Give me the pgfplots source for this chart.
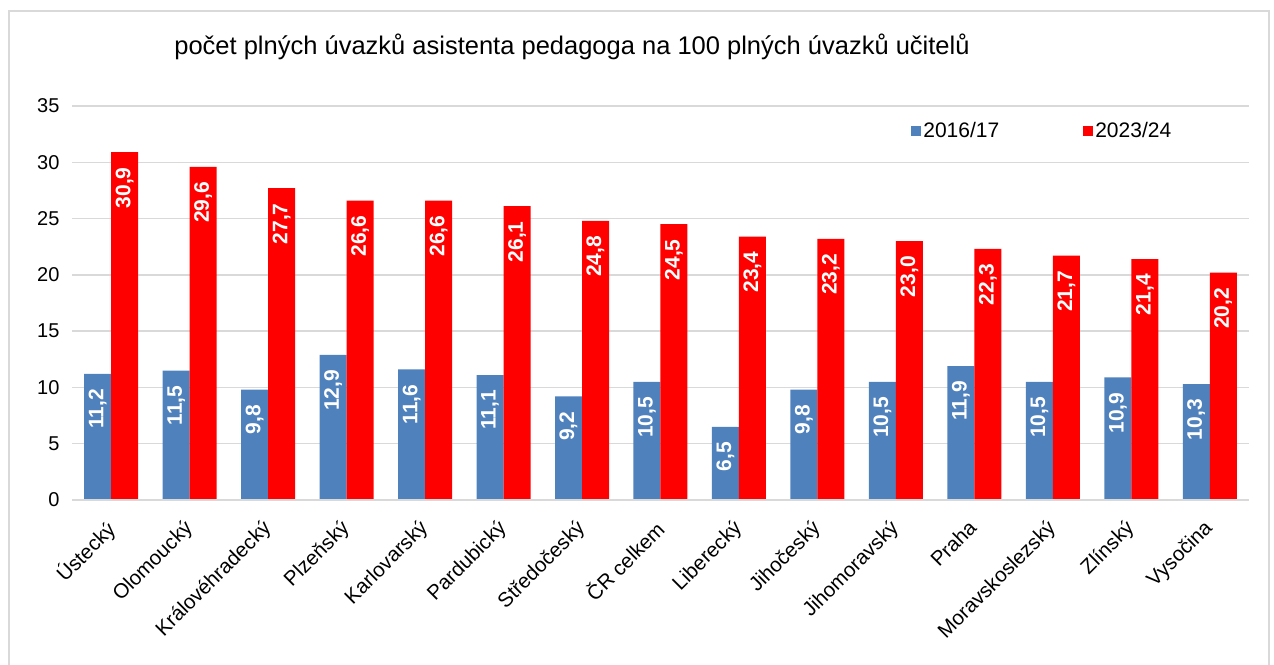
\documentclass[border=0pt]{standalone}
\usepackage{fontspec}
\setmainfont{Liberation Sans}
\usepackage{pgfplots}
\pgfplotsset{compat=1.18}
\definecolor{blueB}{HTML}{4F81BD}
\definecolor{redB}{HTML}{FF0000}
\definecolor{gridG}{HTML}{D9D9D9}
\begin{document}
\begin{tikzpicture}[x=1pt,y=1pt]
\useasboundingbox (0,0) rectangle (1274,664);
\draw[gridG, line width=1.5pt] (9,-20) rectangle (1269,653);
\node[font=\fontsize{25.5}{28}\selectfont] at (572,617) {počet plných úvazků asistenta pedagoga na 100 plných úvazků učitelů};
\begin{axis}[
  at={(72pt,164pt)}, anchor=south west,
  scale only axis, width=1177pt, height=394pt,
  ybar=0pt, bar width=27pt,
  xmin=-0.5, xmax=14.5, ymin=0, ymax=35,
  ytick={0,5,...,35},
  xtick={0,...,14},
  xticklabels={Ústecký,Olomoucký,Královéhradecký,Plzeňský,Karlovarský,Pardubický,Středočeský,ČR celkem,Liberecký,Jihočeský,Jihomoravský,Praha,Moravskoslezský,Zlínský,Vysočina},
  xticklabel style={rotate=45, anchor=north east, inner sep=2pt, yshift=-6pt, xshift=-16pt, font=\fontsize{20.5}{22}\selectfont},
  yticklabel style={font=\fontsize{20}{22}\selectfont, xshift=-9pt},
  /pgf/number format/assume math mode=true,
  major tick length=0pt,
  axis line style={draw=none},
  ymajorgrids, grid style={gridG, line width=1.5pt},
  nodes near coords={\pgfmathprintnumber[use comma,fixed,fixed zerofill,precision=1]{\pgfplotspointmeta}},
  every node near coord/.append style={rotate=90, anchor=east, inner xsep=15pt, text=white, font=\bfseries\fontsize{21}{23}\selectfont},
  legend style={at={(0.713,0.937)}, anchor=west, draw=none, fill=none, inner sep=0pt,
    font=\fontsize{21}{23}\selectfont,
    /tikz/every even column/.append style={column sep=82pt}},
  legend columns=2,
  legend image code/.code={\fill[#1] (0pt,-5pt) rectangle (10pt,5pt);},
]
\addplot[fill=blueB, draw=none] table[x=i, y=a] {
i a
0 11.2
1 11.5
2 9.8
3 12.9
4 11.6
5 11.1
6 9.2
7 10.5
8 6.5
9 9.8
10 10.5
11 11.9
12 10.5
13 10.9
14 10.3
};
\addplot[fill=redB, draw=none] table[x=i, y=b] {
i b
0 30.9
1 29.6
2 27.7
3 26.6
4 26.6
5 26.1
6 24.8
7 24.5
8 23.4
9 23.2
10 23.0
11 22.3
12 21.7
13 21.4
14 20.2
};
\legend{2016/17,2023/24}
\draw[gridG, line width=3pt] (rel axis cs:0,0) -- (rel axis cs:1,0);
\end{axis}
\end{tikzpicture}
\end{document}
